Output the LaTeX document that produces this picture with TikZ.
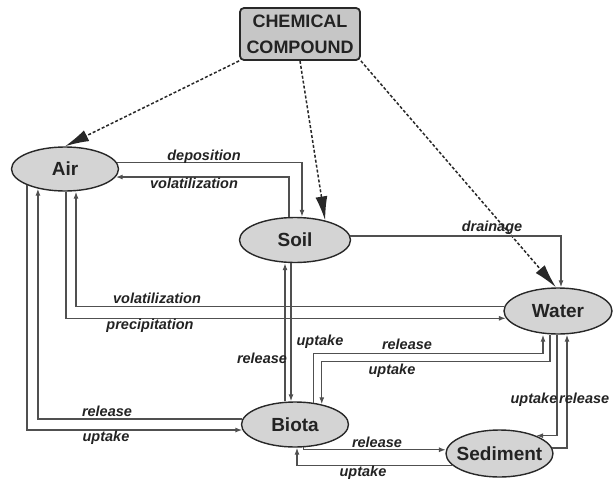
\documentclass[tikz,border=0pt]{standalone}
\usepackage{fontspec}
\setmainfont{Liberation Sans}
\usetikzlibrary{arrows.meta,shapes.geometric}

\definecolor{knoten}{RGB}{212,212,212}
\definecolor{kasten}{RGB}{198,198,198}
\definecolor{rand}{RGB}{40,40,40}
\definecolor{linie}{RGB}{80,80,80}
\definecolor{schrift}{RGB}{35,35,35}

\tikzset{
	komp/.style={ellipse, draw=rand, line width=1.4pt, fill=knoten, inner sep=0pt,
		text=schrift, font=\fontsize{19}{21}\selectfont\bfseries},
	quelle/.style={rectangle, rounded corners=4pt, draw=rand, line width=1.8pt,
		fill=kasten, align=center, inner sep=0pt, minimum width=120pt,
		minimum height=52pt, text=schrift, font=\fontsize{18}{26}\selectfont\bfseries},
	fluss/.style={draw=linie, line width=1.3pt, -{Latex[length=7pt,width=5pt]}},
	eintrag/.style={draw=rand, line width=1.5pt, dash pattern=on 3pt off 2pt,
		-{Latex[length=24pt,width=12pt]}},
	bez/.style={anchor=base, inner sep=0pt, text=schrift,
		font=\fontsize{14.5}{16}\selectfont\bfseries\itshape}
}

\begin{document}
\begin{tikzpicture}[x=1pt, y=-1pt]
	\useasboundingbox (0,0) rectangle (613,482);

	% Quelle
	\node[quelle] (chem) at (300,34) {CHEMICAL\\COMPOUND};

	% Kompartimente
	\node[komp, minimum width=107pt, minimum height=44pt] (air) at (65,169) {Air};
	\node[komp, minimum width=111pt, minimum height=45pt] (soil) at (295,240) {Soil};
	\node[komp, minimum width=108pt, minimum height=46pt] (water) at (558,311) {Water};
	\node[komp, minimum width=107pt, minimum height=45pt] (biota) at (295,424.5) {Biota};
	\node[komp, minimum width=107pt, minimum height=47pt] (sediment) at (499.5,453.5)
		{\makebox[0pt]{Sediment}};

	% Eintrag der Substanz
	\draw[eintrag] (chem.south west) -- (air.north);
	\draw[eintrag] (chem.south) -- (soil.33);
	\draw[eintrag] (chem.south east) -- (water.95);

	% Luft und Boden
	\draw[fluss] (air.7) -| ([xshift=7pt]soil.north);
	\draw[fluss] ([xshift=-6pt]soil.north) |- (air.-9);
	\node[bez] (ldep) at (204,160) {deposition};
	\node[bez] (lvol1) at (194,188) {volatilization};

	% Boden und Wasser
	\draw[fluss] (soil.4) -| ([xshift=3pt]water.north);
	\node[bez] (ldrain) at (492,231) {drainage};

	% Luft und Wasser
	\draw[fluss] (water.175) -| ([xshift=11pt]air.south);
	\draw[fluss] ([xshift=1pt]air.south) |- (water.188);
	\node[bez] (lvol2) at (157,303) {volatilization};
	\node[bez] (lprec) at (150,329) {precipitation};

	% Luft und Biota
	\draw[fluss] (air.203) |- (biota.186);
	\draw[fluss] (biota.174) -| (air.216);
	\node[bez] (lrel1) at (107,416) {release};
	\node[bez] (lupt1) at (106,441) {uptake};

	% Boden und Biota
	\draw[fluss] ([xshift=-10pt]biota.north) -- ([xshift=-10pt]soil.south);
	\draw[fluss] ([xshift=-4pt]soil.south) -- ([xshift=-4pt]biota.north);
	\node[bez] (lrel2) at (262,363) {release};
	\node[bez] (lupt2) at (320,345) {uptake};

	% Biota und Wasser
	\draw[fluss] (biota.50) |- ([xshift=-15pt,yshift=-19pt]water.south)
		-- ([xshift=-15pt]water.south);
	\draw[fluss] ([xshift=-8pt]water.south) -- ++(0,27) -| (biota.37);
	\node[bez] (lrel3) at (407,349) {release};
	\node[bez] (lupt3) at (392,374) {uptake};

	% Wasser und Sediment
	\draw[fluss] ([xshift=-1pt]water.south) |- (sediment.26);
	\draw[fluss] (sediment.6) -| ([xshift=9pt]water.south);
	\node[bez] (lupt4) at (534,403) {uptake};
	\node[bez, anchor=base west] (lrel4) at (559,403) {release};

	% Biota und Sediment
	\draw[fluss] (biota.-70) |- (sediment.176);
	\draw[fluss] (sediment.194) -| ([xshift=2pt]biota.south);
	\node[bez] (lrel5) at (377,447) {release};
	\node[bez] (lupt5) at (363,476) {uptake};
\end{tikzpicture}
\end{document}
